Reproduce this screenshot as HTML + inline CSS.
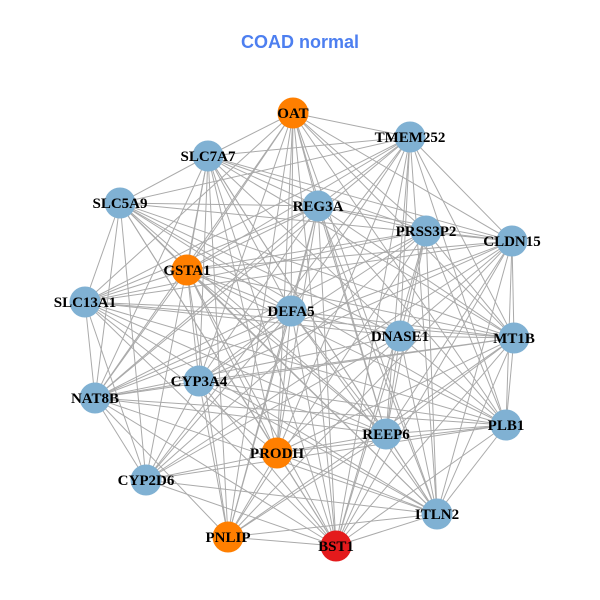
<!DOCTYPE html>
<html><head><meta charset="utf-8"><style>
html,body{margin:0;padding:0;background:#fff;width:600px;height:600px;overflow:hidden}
</style></head><body>
<svg id="g" width="600" height="600" xmlns="http://www.w3.org/2000/svg">
<rect width="600" height="600" fill="#fff"/>
<text x="300" y="48" text-anchor="middle" font-family="Liberation Sans, sans-serif" font-weight="bold" font-size="18" fill="#4d7ff0">COAD normal</text>
<g id="edges" stroke="#aaaaaa" stroke-width="1"></g>
<g id="nodes"></g>
</svg>
<script>
var N=[["OAT",293,113,"#ff7f00"],["TMEM252",410,137,"#80b1d3"],["SLC7A7",208,156,"#80b1d3"],["SLC5A9",120,203,"#80b1d3"],["REG3A",318,206,"#80b1d3"],["PRSS3P2",426,231,"#80b1d3"],["CLDN15",512,241,"#80b1d3"],["GSTA1",187,270,"#ff7f00"],["SLC13A1",85,302,"#80b1d3"],["DEFA5",291,311,"#80b1d3"],["DNASE1",400,336,"#80b1d3"],["MT1B",514,338,"#80b1d3"],["CYP3A4",199,381,"#80b1d3"],["NAT8B",95,398,"#80b1d3"],["REEP6",386,434,"#80b1d3"],["PLB1",506,425,"#80b1d3"],["PRODH",277,453,"#ff7f00"],["CYP2D6",146,480,"#80b1d3"],["ITLN2",437,514,"#80b1d3"],["PNLIP",228,537,"#ff7f00"],["BST1",336,546,"#e41a1c"]];
var ns="http://www.w3.org/2000/svg",E=document.getElementById("edges"),G=document.getElementById("nodes");
var k=0;
for(var i=0;i<N.length;i++)for(var j=i+1;j<N.length;j++){k++;if(k%7==3)continue;
var l=document.createElementNS(ns,"line");l.setAttribute("x1",N[i][1]);l.setAttribute("y1",N[i][2]);l.setAttribute("x2",N[j][1]);l.setAttribute("y2",N[j][2]);E.appendChild(l);}
N.forEach(function(n){var c=document.createElementNS(ns,"circle");c.setAttribute("cx",n[1]);c.setAttribute("cy",n[2]);c.setAttribute("r",15.5);c.setAttribute("fill",n[3]);G.appendChild(c);});
N.forEach(function(n){var t=document.createElementNS(ns,"text");t.setAttribute("x",n[1]);t.setAttribute("y",n[2]+5);t.setAttribute("text-anchor","middle");t.setAttribute("font-family","Liberation Serif, serif");t.setAttribute("font-weight","bold");t.setAttribute("font-size","15");t.textContent=n[0];G.appendChild(t);});
</script>
</body></html>
